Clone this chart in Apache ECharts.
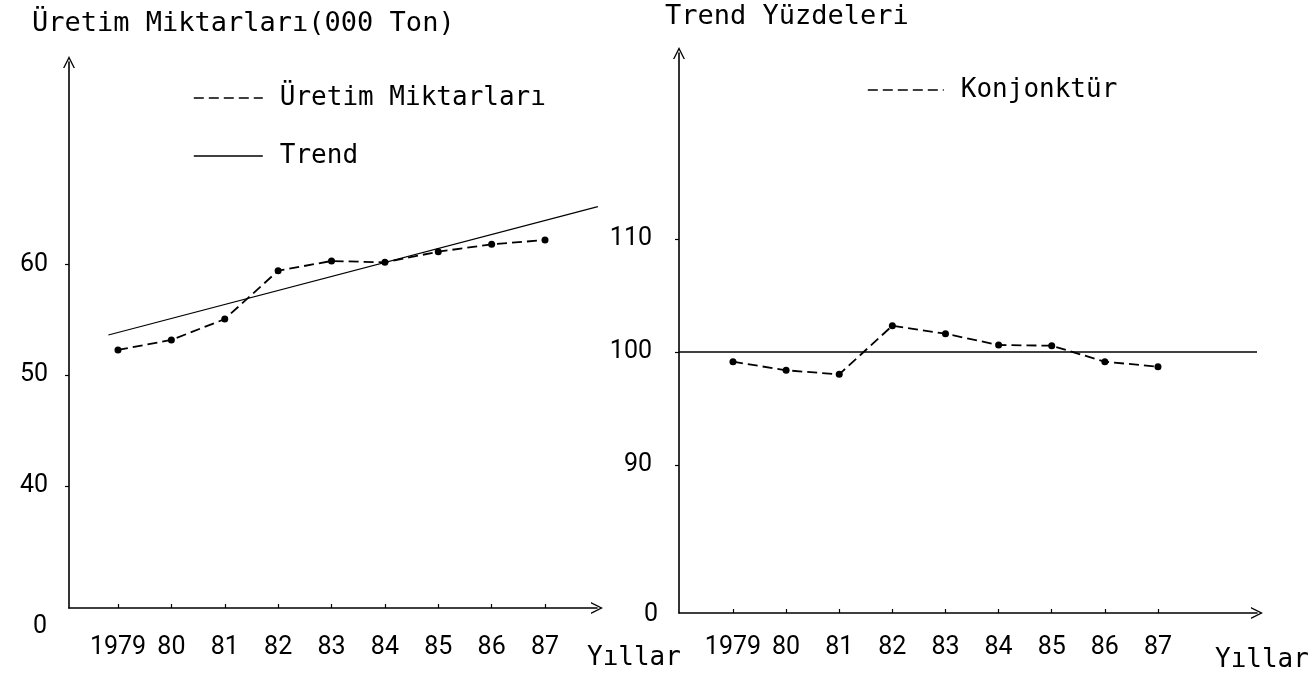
<!DOCTYPE html>
<html>
<head>
<meta charset="utf-8">
<script src="https://cdn.jsdelivr.net/npm/echarts@6/dist/echarts.min.js"></script>
<style>
  html, body { margin: 0; padding: 0; background: #fff; }
  #chart { width: 1314px; height: 674px; }
</style>
</head>
<body>
<div id="chart"></div>
<script>
// years on both panels
const years = [1979, 1980, 1981, 1982, 1983, 1984, 1985, 1986, 1987];
const yearLabels = ['1979', '80', '81', '82', '83', '84', '85', '86', '87'];

// left panel: production (000 ton) and its linear trend
const uretim = [52.27, 53.17, 55.06, 59.42, 60.30, 60.18, 61.14, 61.80, 62.19];
const trendYears = [1978.82, 1987.99];
const trendValues = [53.62, 65.20];
const uretimTicks = [40, 50, 60];

// right panel: percent of trend
const konjonktur = [99.14, 98.38, 98.02, 102.33, 101.62, 100.62, 100.56, 99.14, 98.70];
const trendLevel = 100;
const yuzdeTicks = [90, 100, 110];

const TEXT_FONT = 'DejaVu Sans Mono';
const NUM_FONT = 'Roboto';
const ARROW = 'path://M0,10 L5,0 L10,10 L8.8,10 L5,2.4 L1.2,10 Z';

function pairs(xs, ys) {
    return xs.map((x, i) => [x, ys[i]]);
}

function yearLabel(v) {
    const i = years.indexOf(Math.round(v));
    return i >= 0 ? yearLabels[i] : '';
}

const axisLineStyle = { color: '#000', width: 1.6 };

function xAxisFor(gridIndex, min, max, labelMargin, nameGap, namePadTop) {
    return {
        type: 'value', gridIndex: gridIndex, min: min, max: max,
        axisLine: { show: true, onZero: false, symbol: ['none', ARROW], symbolSize: [12, 14], lineStyle: axisLineStyle },
        axisTick: { show: true, inside: true, length: 4, customValues: years, lineStyle: { color: '#000', width: 1.2 } },
        axisLabel: { customValues: years, formatter: yearLabel, margin: labelMargin, fontFamily: NUM_FONT, fontSize: 25, color: '#000' },
        splitLine: { show: false },
        name: 'Yıllar', nameLocation: 'end', nameGap: nameGap,
        nameTextStyle: { fontFamily: TEXT_FONT, fontSize: 26, color: '#000', align: 'left', verticalAlign: 'top', padding: [namePadTop, 0, 0, 0] }
    };
}

function yAxisFor(gridIndex, min, max, ticks, labelMargin) {
    return {
        type: 'value', gridIndex: gridIndex, min: min, max: max,
        axisLine: { show: true, onZero: false, symbol: ['none', ARROW], symbolSize: [12, 14], lineStyle: axisLineStyle },
        axisTick: { show: true, length: 4, customValues: ticks, lineStyle: { color: '#000', width: 1.2 } },
        axisLabel: { customValues: ticks, margin: labelMargin, fontFamily: NUM_FONT, fontSize: 25, color: '#000' },
        splitLine: { show: false }
    };
}

const legendBase = {
    orient: 'horizontal', padding: 0, selectedMode: false, itemHeight: 14,
    itemStyle: { opacity: 0 },
    lineStyle: { width: 1.6 },
    textStyle: { fontFamily: TEXT_FONT, fontSize: 26, color: '#000', padding: [0, 0, 0, 12] }
};

const chart = echarts.init(document.getElementById('chart'), null, { renderer: 'canvas' });

const option = {
    animation: false,
    backgroundColor: '#fff',
    title: [
        { text: 'Üretim Miktarları(000 Ton)', left: 32, top: 10, padding: 0,
          textStyle: { fontFamily: TEXT_FONT, fontSize: 27, fontWeight: 'normal', color: '#000' } },
        { text: 'Trend Yüzdeleri', left: 665, top: 3, padding: 0,
          textStyle: { fontFamily: TEXT_FONT, fontSize: 27, fontWeight: 'normal', color: '#000' } }
    ],
    legend: [
        Object.assign({}, legendBase, { data: ['Üretim Miktarları'], left: 193, top: 85, itemWidth: 69 }),
        Object.assign({}, legendBase, { data: ['Trend'], left: 193, top: 143, itemWidth: 69 }),
        Object.assign({}, legendBase, { data: ['Konjonktür'], left: 867, top: 77, itemWidth: 76 })
    ],
    grid: [
        { left: 69, top: 62, width: 528, height: 546, outerBoundsMode: 'none', containLabel: false },
        { left: 679, top: 53, width: 578, height: 560, outerBoundsMode: 'none', containLabel: false }
    ],
    xAxis: [
        xAxisFor(0, 1978.082, 1987.974, 27, -10, 37),
        xAxisFor(1, 1977.984, 1988.864, 22, -42, 34)
    ],
    yAxis: [
        yAxisFor(0, 28.98, 78.26, uretimTicks, 21),
        yAxisFor(1, 76.87, 126.50, yuzdeTicks, 27)
    ],
    graphic: [
        { type: 'text', x: 40, y: 627, silent: true,
          style: { text: '0', fill: '#000', fontFamily: NUM_FONT, fontSize: 25, align: 'center', verticalAlign: 'middle' } },
        { type: 'text', x: 651, y: 615, silent: true,
          style: { text: '0', fill: '#000', fontFamily: NUM_FONT, fontSize: 25, align: 'center', verticalAlign: 'middle' } }
    ],
    series: [
        {
            name: 'Üretim Miktarları', type: 'line', xAxisIndex: 0, yAxisIndex: 0,
            data: pairs(years, uretim),
            symbol: 'circle', symbolSize: 7, z: 3,
            lineStyle: { color: '#000', width: 1.8, type: [10, 5] },
            itemStyle: { color: '#000' }
        },
        {
            name: 'Trend', type: 'line', xAxisIndex: 0, yAxisIndex: 0,
            data: pairs(trendYears, trendValues),
            symbol: 'none', clip: false,
            lineStyle: { color: '#000', width: 1.2 },
            itemStyle: { color: '#000' }
        },
        {
            name: 'Konjonktür', type: 'line', xAxisIndex: 1, yAxisIndex: 1,
            data: pairs(years, konjonktur),
            symbol: 'circle', symbolSize: 7, z: 3,
            lineStyle: { color: '#000', width: 1.8, type: [10, 5] },
            itemStyle: { color: '#000' },
            markLine: {
                silent: true, symbol: 'none', label: { show: false },
                lineStyle: { color: '#000', width: 1.6, type: 'solid' },
                data: [{ yAxis: trendLevel }]
            }
        }
    ]
};

chart.setOption(option);
</script>
</body>
</html>
